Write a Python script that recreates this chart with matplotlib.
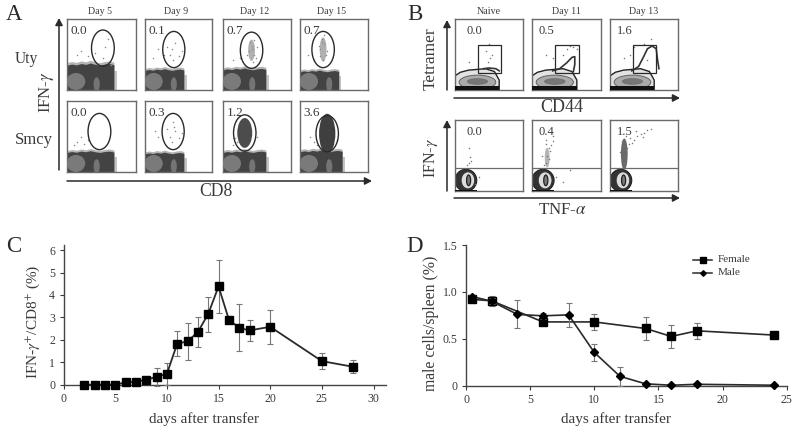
import matplotlib
matplotlib.use("Agg")
import matplotlib.pyplot as plt
from matplotlib.patches import Ellipse, Rectangle, Polygon

plt.rcParams['font.family'] = ['Liberation Serif', 'DejaVu Serif']
plt.rcParams['mathtext.fontset'] = 'stix'
W, H = 800, 432
INK = '#2a2a2a'
TXT = '#3a3a3a'
BOX = '#6a6a6a'

# --- Panel C
c_days = [2, 3, 4, 5, 6, 7, 8, 9, 10, 11, 12, 13, 14, 15, 16, 17, 18, 20, 25, 28]
c_vals = [0, 0, 0, 0, .1, .13, .22, .35, .48, 1.83, 1.93, 2.35, 3.15, 4.38, 2.9, 2.53, 2.42, 2.58, 1.05, .8]
c_errs = [0, 0, 0, 0, .1, .1, .12, .4, .5, .57, .82, .65, .78, 1.17, 0, 1.05, .47, .75, .35, .28]
# --- Panel D
d_f_days = [.5, 2, 6, 10, 14, 16, 18, 24]
d_f_vals = [.92, .905, .68, .68, .61, .525, .585, .54]
d_f_errs = [.03, .05, .03, .085, .125, .12, .085, 0]
d_m_days = [.5, 2, 4, 6, 8, 10, 12, 14, 16, 18, 24]
d_m_vals = [.95, .9, .76, .745, .755, .355, .1, .02, .005, .015, .005]
d_m_errs = [.02, .03, .15, .03, .13, .09, .1, .01, 0, 0, 0]

# --- Panel A: flow plots
a_days = ['Day 5', 'Day 9', 'Day 12', 'Day 15']
a_rows = ['Uty', 'Smcy']
a_pct = [['0.0', '0.1', '0.7', '0.7'], ['0.0', '0.3', '1.2', '3.6']]
a_gate_x = [[.52, .43, .42, .34], [.47, .42, .32, .40]]
a_gate_y = [[.59, .57, .56, .57], [.57, .57, .55, .54]]
a_extent = [[.68, .58, .63, .57], [.68, .58, .63, .62]]
a_top = [[.38, .30, .31, .28], [.30, .28, .30, .31]]
a_core_w = [[0, 0, .10, .10], [0, 0, .22, .24]]
a_core_h = [[0, 0, .30, .34], [0, 0, .42, .56]]
a_core_c = [['#fff', '#fff', '#b0b0b0', '#b0b0b0'], ['#fff', '#fff', '#4c4c4c', '#3f3f3f']]
a_edge_x = [0, .1, .2, .3, .4, .5, .6, .7, .8, .9, 1]
a_edge_y = [.92, .96, .93, .98, .95, 1.0, .95, .92, .96, .98, .94]
a_dots_x = [[.55, .6, .4, .52, .64, .2, .15, .3],
            [.4, .45, .38, .5, .42, .33, .55, .28, .2, .12],
            [.42, .45, .38, .48, .4, .44, .5, .36, .25, .15, .46, .42],
            [.32, .36, .3, .38, .28, .34, .4, .33, .36, .3, .2, .12]]
a_dots_y = [[.6, .72, .52, .45, .35, .55, .5, .48],
            [.58, .66, .5, .48, .42, .6, .55, .5, .58, .45],
            [.62, .5, .55, .45, .68, .4, .6, .5, .45, .42, .7, .58],
            [.72, .65, .58, .5, .62, .42, .55, .68, .78, .48, .42, .5]]
a2_dots_x = [[.3, .2, .15, .1, .25], [.42, .45, .38, .5, .4, .33, .55, .2, .15, .44],
             [.2, .18, .5, .15], [.2, .15, .25, .55]]
a2_dots_y = [[.45, .5, .42, .38, .4], [.7, .58, .5, .48, .42, .6, .55, .5, .58, .64],
             [.42, .48, .5, .38], [.42, .5, .38, .45]]

# --- Panel B: flow plots
b_days = ['Naive', 'Day 11', 'Day 13']
b_pct_top = ['0.0', '0.5', '1.6']
b_pct_bot = ['0.0', '0.4', '1.5']
b_dome_x = [0, 0, .08, .2, .45, .58, .65, .65]
b_dome_y = [0, .2, .25, .28, .3, .26, .14, 0]
b_tail_x = [[.42, .5, .6, .65], [.3, .4, .5, .58, .62, .62, .6],
            [.32, .42, .5, .55, .62, .68, .7, .72]]
b_tail_y = [[.3, .31, .3, .27], [.27, .3, .38, .46, .47, .36, .26],
            [.27, .33, .48, .58, .62, .58, .42, .3]]
b_dots_x = [[.45, .5, .52, .55, .48, .2], [.3, .2, .5, .55, .6, .65, .45], [.2, .3, .35, .6, .68, .5, .55]]
b_dots_y = [[.55, .65, .45, .5, .4, .4], [.45, .5, .58, .62, .6, .58, .5], [.45, .5, .6, .72, .6, .65, .42]]
b2_dots_x = [[.2, .22, .18, .24, .2, .35, .3],
             [.2, .22, .25, .18, .3, .24, .27, .15, .35, .45, .55, .2, .3, .26, .21],
             [.2, .22, .25, .18, .3, .35, .4, .45, .5, .55, .15, .6, .28, .24, .33, .38, .48]]
b2_dots_y = [[.4, .48, .36, .42, .6, .2, .1],
             [.4, .5, .6, .36, .7, .45, .65, .5, .2, .12, .3, .72, .78, .56, .66],
             [.4, .5, .6, .7, .75, .72, .78, .8, .82, .86, .55, .88, .66, .78, .68, .84, .76]]

fig = plt.figure(figsize=(W / 100, H / 100), dpi=100)


def ax_px(x0, y0, x1, y1):
    return fig.add_axes([x0 / W, 1 - y1 / H, (x1 - x0) / W, (y1 - y0) / H])


pg = fig.add_axes([0, 0, 1, 1], zorder=5)
pg.set_xlim(0, W)
pg.set_ylim(H, 0)
pg.axis('off')
pg.patch.set_alpha(0)


def arrow(x0, y0, x1, y1):
    pg.annotate('', xy=(x1, y1), xytext=(x0, y0),
                arrowprops=dict(arrowstyle='-|>,head_width=.22,head_length=.42', lw=1.1,
                                color=INK, shrinkA=0, shrinkB=0))


def panel(x0, y0, x1, y1):
    ax = ax_px(x0, y0, x1, y1)
    ax.set_xlim(0, 1)
    ax.set_ylim(0, 1)
    ax.set_xticks([])
    ax.set_yticks([])
    for s in ax.spines.values():
        s.set_color(BOX)
        s.set_linewidth(1.0)
    return ax


# ---------- A ----------
a_x = [(67, 136), (145, 212), (223, 291), (300, 368)]
a_y = [(19, 90), (101, 172)]
for r, (y0, y1) in enumerate(a_y):
    for c, (x0, x1) in enumerate(a_x):
        ax = panel(x0, y0, x1, y1)
        ext, top = a_extent[r][c], a_top[r][c]
        xs = [e * ext for e in a_edge_x]
        ax.fill_between(xs, 0, [e * top * 1.1 for e in a_edge_y], color='#b4b4b4', lw=0, zorder=1)
        ax.fill_between(xs, 0, [e * top for e in a_edge_y], color='#434343', lw=0, zorder=2)
        ax.add_patch(Rectangle((ext, 0), .04, top * .7, color='#c4c4c4', lw=0, zorder=1))
        ax.add_patch(Ellipse((.13, .12), .27, .24, color='#7a7a7a', lw=0, zorder=3))
        ax.add_patch(Ellipse((.43, .08), .09, .2, color='#747474', lw=0, zorder=3))
        gx, gy = a_gate_x[r][c], a_gate_y[r][c]
        if a_core_w[r][c]:
            ax.add_patch(Ellipse((gx, gy), a_core_w[r][c], a_core_h[r][c], color=a_core_c[r][c], lw=0, zorder=3))
        ax.add_patch(Ellipse((gx, gy), .33, .51, fill=False, ec=INK, lw=1.0, zorder=4))
        dx, dy = (a_dots_x[c], a_dots_y[c]) if r == 0 else (a2_dots_x[c], a2_dots_y[c])
        ax.scatter(dx, dy, s=1.2, color='#8a8a8a', lw=0, zorder=3)
        ax.text(.05, .92, a_pct[r][c], fontsize=9.5, va='top', ha='left', color=TXT, zorder=5, clip_on=False)
for (x0, x1), d in zip(a_x, a_days):
    pg.text((x0 + x1) / 2 - 2, 12, d, fontsize=7.2, ha='center', va='center', color=TXT)
pg.text(14, 14, 'A', fontsize=16.5, ha='center', va='center', color=INK)
pg.text(26, 59, 'Uty', fontsize=11.2, ha='center', va='center', color=TXT)
pg.text(34, 140, 'Smcy', fontsize=12, ha='center', va='center', color=TXT)
pg.text(47, 92, 'IFN-$\\gamma$', fontsize=12, rotation=90, ha='center', va='center', color=TXT)
pg.text(216, 191, 'CD8', fontsize=12.7, ha='center', va='center', color=TXT)
arrow(59, 170, 59, 18)
arrow(67, 181, 372, 181)

# ---------- B ----------
b_x = [(455, 523), (532, 601), (610, 678)]
for c, (x0, x1) in enumerate(b_x):
    ax = panel(x0, 19, x1, 90)
    ax.add_patch(Polygon(list(zip(b_dome_x, b_dome_y)), closed=True, fc='#e2e2e2', ec='#222222', lw=1.0, zorder=2))
    ax.add_patch(Ellipse((.33, .11), .54, .2, fc='#aaaaaa', ec='#555555', lw=.6, zorder=3))
    ax.add_patch(Ellipse((.33, .12), .3, .08, fc='#777777', ec='#666666', lw=.4, zorder=4))
    ax.add_patch(Rectangle((0, 0), .65, .05, color='#111111', lw=0, zorder=5))
    ax.plot(b_tail_x[c], b_tail_y[c], color='#333333', lw=1.2, zorder=4)
    ax.scatter(b_dots_x[c], b_dots_y[c], s=1.2, color='#777777', lw=0, zorder=3)
    ax.add_patch(Rectangle((.335, .24), .34, .39, fill=False, ec=INK, lw=.9, zorder=6))
    ax.text(.17 if c == 0 else .1, .92, b_pct_top[c], fontsize=9, va='top', color=TXT, zorder=7)

    ax = panel(x0, 120, x1, 191)
    ax.add_patch(Ellipse((.16, .15), .32, .31, fc='#333333', ec='#222222', lw=.8, zorder=2))
    ax.add_patch(Ellipse((.19, .15), .2, .24, fc='#dddddd', ec='#333333', lw=.7, zorder=3))
    ax.add_patch(Ellipse((.2, .15), .06, .15, fc='#777777', ec='#222222', lw=.9, zorder=4))
    ax.add_patch(Rectangle((0, 0), .32, .02, color='#111111', lw=0, zorder=5))
    if c == 1:
        ax.add_patch(Ellipse((.22, .47), .07, .28, color='#b4b4b4', lw=0, zorder=2))
    if c == 2:
        ax.add_patch(Ellipse((.21, .52), .1, .44, color='#6a6a6a', lw=0, zorder=2))
    ax.scatter(b2_dots_x[c], b2_dots_y[c], s=1.2, color='#777777', lw=0, zorder=3)
    ax.axhline(.32, color=BOX, lw=.9, zorder=6)
    ax.text(.17 if c == 0 else .1, .92, b_pct_bot[c], fontsize=9, va='top', color=TXT, zorder=7)
    pg.text((x0 + x1) / 2, 12, b_days[c], fontsize=7.2, ha='center', va='center', color=TXT)
pg.text(415, 14, 'B', fontsize=16.5, ha='center', va='center', color=INK)
pg.text(431, 59, 'Tetramer', fontsize=12.6, rotation=90, ha='center', va='center', color=TXT)
pg.text(431, 158, 'IFN-$\\gamma$', fontsize=11.5, rotation=90, ha='center', va='center', color=TXT)
pg.text(562, 108, 'CD44', fontsize=13, ha='center', va='center', color=TXT)
pg.text(562, 210, 'TNF-$\\alpha$', fontsize=12.2, ha='center', va='center', color=TXT)
arrow(447, 90, 447, 20)
arrow(447, 191, 447, 120)
arrow(454, 98, 680, 98)
arrow(454, 198, 680, 198)


def style(ax):
    ax.spines['top'].set_visible(False)
    ax.spines['right'].set_visible(False)
    for s in ('left', 'bottom'):
        ax.spines[s].set_color('#444444')
        ax.spines[s].set_linewidth(1.0)
    ax.tick_params(colors=TXT, labelsize=8.5, length=3, width=.8, direction='out', pad=3)
    ax.patch.set_alpha(0)


# ---------- C ----------
ax = ax_px(63.5, 244.7, 386, 384.7)
ax.set_xlim(0, 31.2)
ax.set_ylim(0, 6.24)
ax.errorbar(c_days, c_vals, yerr=c_errs, color=INK, lw=1.3, marker='s', ms=5.2, mfc='black', mec='black',
            ecolor='#777777', elinewidth=.8, capsize=2, capthick=.8, clip_on=False, zorder=3)
ax.set_xticks(range(0, 31, 5))
ax.set_yticks(range(0, 7))
style(ax)
pg.text(14, 246, 'C', fontsize=16.5, ha='center', va='center', color=INK)
pg.text(33, 322, 'IFN-$\\gamma^{+}$/CD8$^{+}$ (%)', fontsize=11, rotation=90, ha='center', va='center', color=TXT)
pg.text(204, 419, 'days after transfer', fontsize=11, ha='center', va='center', color=TXT)

# ---------- D ----------
ax = ax_px(466, 245, 786.7, 385.7)
ax.set_xlim(0, 25)
ax.set_ylim(0, 1.5)
ax.errorbar(d_f_days, d_f_vals, yerr=d_f_errs, color=INK, lw=1.2, marker='s', ms=5.2, mfc='black', mec='black',
            ecolor='#777777', elinewidth=.8, capsize=2, capthick=.8, clip_on=False, zorder=3)
ax.errorbar(d_m_days, d_m_vals, yerr=d_m_errs, color=INK, lw=1.2, marker='D', ms=3.8, mfc='black', mec='black',
            ecolor='#777777', elinewidth=.8, capsize=2, capthick=.8, clip_on=False, zorder=4)
ax.set_xticks(range(0, 26, 5))
ax.set_yticks([0, .5, 1, 1.5])
ax.set_yticklabels(['0', '0.5', '1.0', '1.5'])
style(ax)
pg.plot([693, 712], [259.5, 259.5], color=INK, lw=1.1)
pg.plot([702.5], [259.5], marker='s', ms=4, color='black')
pg.plot([693, 712], [272.5, 272.5], color=INK, lw=1.1)
pg.plot([702.5], [272.5], marker='D', ms=2.8, color='black')
pg.text(718, 259.5, 'Female', fontsize=8, va='center', color=TXT)
pg.text(718, 272.5, 'Male', fontsize=8, va='center', color=TXT)
pg.text(415, 246, 'D', fontsize=16.5, ha='center', va='center', color=INK)
pg.text(431, 323, 'male cells/spleen (%)', fontsize=11.3, rotation=90, ha='center', va='center', color=TXT)
pg.text(616, 419, 'days after transfer', fontsize=11, ha='center', va='center', color=TXT)

fig.savefig('out.png', dpi=100)
